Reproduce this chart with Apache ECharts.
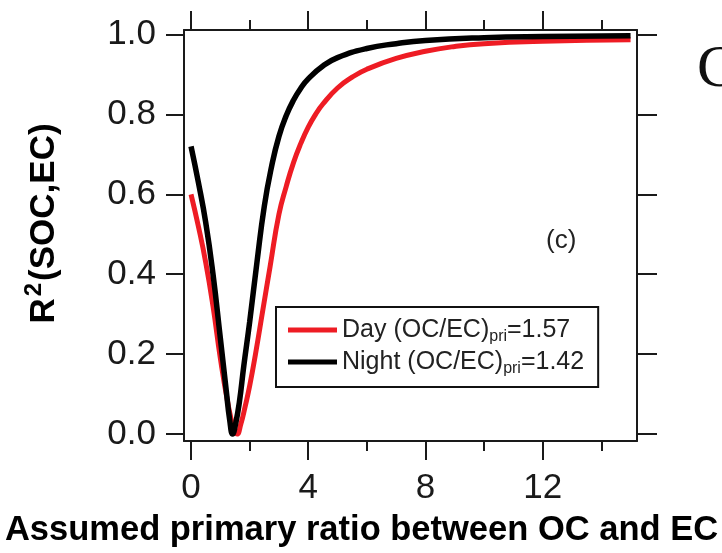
<!DOCTYPE html>
<html>
<head>
<meta charset="utf-8">
<script src="https://cdn.jsdelivr.net/npm/echarts@6/dist/echarts.min.js"></script>
<style>
    html, body { margin: 0; padding: 0; background: #fff; }
    #chart { width: 722px; height: 553px; }
</style>
</head>
<body>
<div id="chart"></div>
<script>
// R2(SOC,EC) vs assumed primary OC/EC ratio
var dayX = [0, 0.25, 0.5, 0.75, 1.0, 1.25, 1.45, 1.57, 1.7, 1.85, 2.0, 2.2, 2.45, 2.7, 3.0, 3.25, 3.5, 3.75, 4.0, 4.25, 4.5, 5.0, 5.5, 6.0, 7.0, 8.0, 9.0, 10, 12, 15];
var dayY = [0.60, 0.52, 0.43, 0.32, 0.19, 0.08, 0.015, 0.0, 0.025, 0.07, 0.12, 0.20, 0.31, 0.42, 0.55, 0.62, 0.68, 0.728, 0.768, 0.80, 0.826, 0.866, 0.893, 0.913, 0.94, 0.958, 0.97, 0.977, 0.983, 0.987];
var nightX = [0, 0.25, 0.5, 0.75, 1.0, 1.2, 1.32, 1.42, 1.52, 1.65, 1.8, 2.0, 2.25, 2.5, 2.75, 3.0, 3.25, 3.5, 3.75, 4.0, 4.5, 5.0, 6.0, 7.0, 8.0, 10, 12, 15];
var nightY = [0.72, 0.63, 0.53, 0.40, 0.24, 0.11, 0.035, 0.0, 0.025, 0.08, 0.17, 0.28, 0.43, 0.57, 0.67, 0.745, 0.797, 0.836, 0.866, 0.889, 0.921, 0.942, 0.965, 0.977, 0.985, 0.992, 0.995, 0.997];

var seriesNames = ["Day", "Night"];
var seriesRatios = ["1.57", "1.42"];
var xMajorTicks = [0, 4, 8, 12];
var xMinorTicks = [2, 6, 10, 14];
var yTicks = [0, 0.2, 0.4, 0.6, 0.8, 1.0];

var font = "Liberation Sans";
var ink = "#1a1a1a";

function pairs(xs, ys) {
    return xs.map(function (x, i) { return [x, ys[i]]; });
}

var xRange = { min: -0.24, max: 15.22 };
var yRange = { min: -0.0174, max: 1.0112 };

function tickAxis(position, ticks, len, showLine) {
    return {
        type: "value",
        position: position,
        min: xRange.min,
        max: xRange.max,
        axisLine: { show: showLine, onZero: false, lineStyle: { color: ink, width: 2 } },
        axisTick: { show: true, inside: false, length: len, customValues: ticks, lineStyle: { color: ink, width: 2 } },
        axisLabel: { show: false },
        splitLine: { show: false }
    };
}

var chart = echarts.init(document.getElementById("chart"));
chart.setOption({
    animation: false,
    backgroundColor: "#fff",
    grid: { left: 184, top: 30, width: 453, height: 414, containLabel: false },
    legend: {
        data: seriesNames,
        orient: "vertical",
        left: 276,
        top: 307,
        padding: [8, 14, 10, 12],
        itemGap: 2,
        icon: "rect",
        itemWidth: 49,
        itemHeight: 5,
        borderColor: "#111",
        borderWidth: 2,
        borderRadius: 0,
        formatter: function (name) {
            var r = seriesRatios[seriesNames.indexOf(name)];
            return "{t|" + name + " (OC/EC)}{s|pri}{t|=" + r + "}";
        },
        textStyle: {
            fontFamily: font,
            color: "#222",
            rich: {
                t: { fontFamily: font, fontSize: 25, color: "#222", lineHeight: 30 },
                s: { fontFamily: font, fontSize: 16, color: "#222", lineHeight: 16, padding: [14, 0, 0, 0] }
            }
        }
    },
    xAxis: [
        {
            type: "value",
            position: "bottom",
            min: xRange.min,
            max: xRange.max,
            axisLine: { show: true, onZero: false, lineStyle: { color: ink, width: 2 } },
            axisTick: { show: true, inside: false, length: 19, customValues: xMajorTicks, lineStyle: { color: ink, width: 2 } },
            axisLabel: { customValues: xMajorTicks, margin: 30, fontFamily: font, fontSize: 35, color: ink },
            splitLine: { show: false },
            name: "Assumed primary ratio between OC and EC",
            nameLocation: "middle",
            nameGap: 72,
            nameTextStyle: { fontFamily: font, fontSize: 34.5, fontWeight: "bold", color: "#000", padding: [0, 98, 0, 0] }
        },
        tickAxis("bottom", xMinorTicks, 10, false),
        tickAxis("top", xMajorTicks, 19, true),
        tickAxis("top", xMinorTicks, 10, false)
    ],
    yAxis: [
        {
            type: "value",
            position: "left",
            min: yRange.min,
            max: yRange.max,
            axisLine: { show: true, onZero: false, lineStyle: { color: ink, width: 2 } },
            axisTick: { show: true, inside: false, length: 18, customValues: yTicks, lineStyle: { color: ink, width: 2 } },
            axisLabel: {
                customValues: yTicks,
                margin: 28,
                fontFamily: font,
                fontSize: 35,
                color: ink,
                formatter: function (v) { return v.toFixed(1); }
            },
            splitLine: { show: false },
            name: "{a|R}{p|2}{a|(SOC,EC)}",
            nameLocation: "middle",
            nameRotate: 90,
            nameGap: 118,
            nameTextStyle: {
                padding: [0, 0, 0, 24],
                rich: {
                    a: { fontFamily: font, fontSize: 35, fontWeight: "bold", color: "#000" },
                    p: { fontFamily: font, fontSize: 24, fontWeight: "bold", color: "#000", padding: [0, 2, 20, 2] }
                }
            }
        },
        {
            type: "value",
            position: "right",
            min: yRange.min,
            max: yRange.max,
            axisLine: { show: true, onZero: false, lineStyle: { color: ink, width: 2 } },
            axisTick: { show: true, inside: false, length: 20, customValues: yTicks, lineStyle: { color: ink, width: 2 } },
            axisLabel: { show: false },
            splitLine: { show: false }
        }
    ],
    graphic: [
        { type: "text", left: 546, top: 228, style: { text: "(c)", font: "26px 'Liberation Sans'", fill: "#222" } },
        { type: "text", left: 697, top: 40, style: { text: "C", font: "60px 'Liberation Serif'", fill: "#111" } }
    ],
    series: [
        {
            name: seriesNames[0],
            type: "line",
            data: pairs(dayX, dayY),
            smooth: 0.5,
            symbol: "none",
            color: "#ee1c24",
            lineStyle: { color: "#ee1c24", width: 5 }
        },
        {
            name: seriesNames[1],
            type: "line",
            data: pairs(nightX, nightY),
            smooth: 0.5,
            symbol: "none",
            color: "#000",
            lineStyle: { color: "#000", width: 5.5 }
        }
    ]
});
</script>
</body>
</html>
